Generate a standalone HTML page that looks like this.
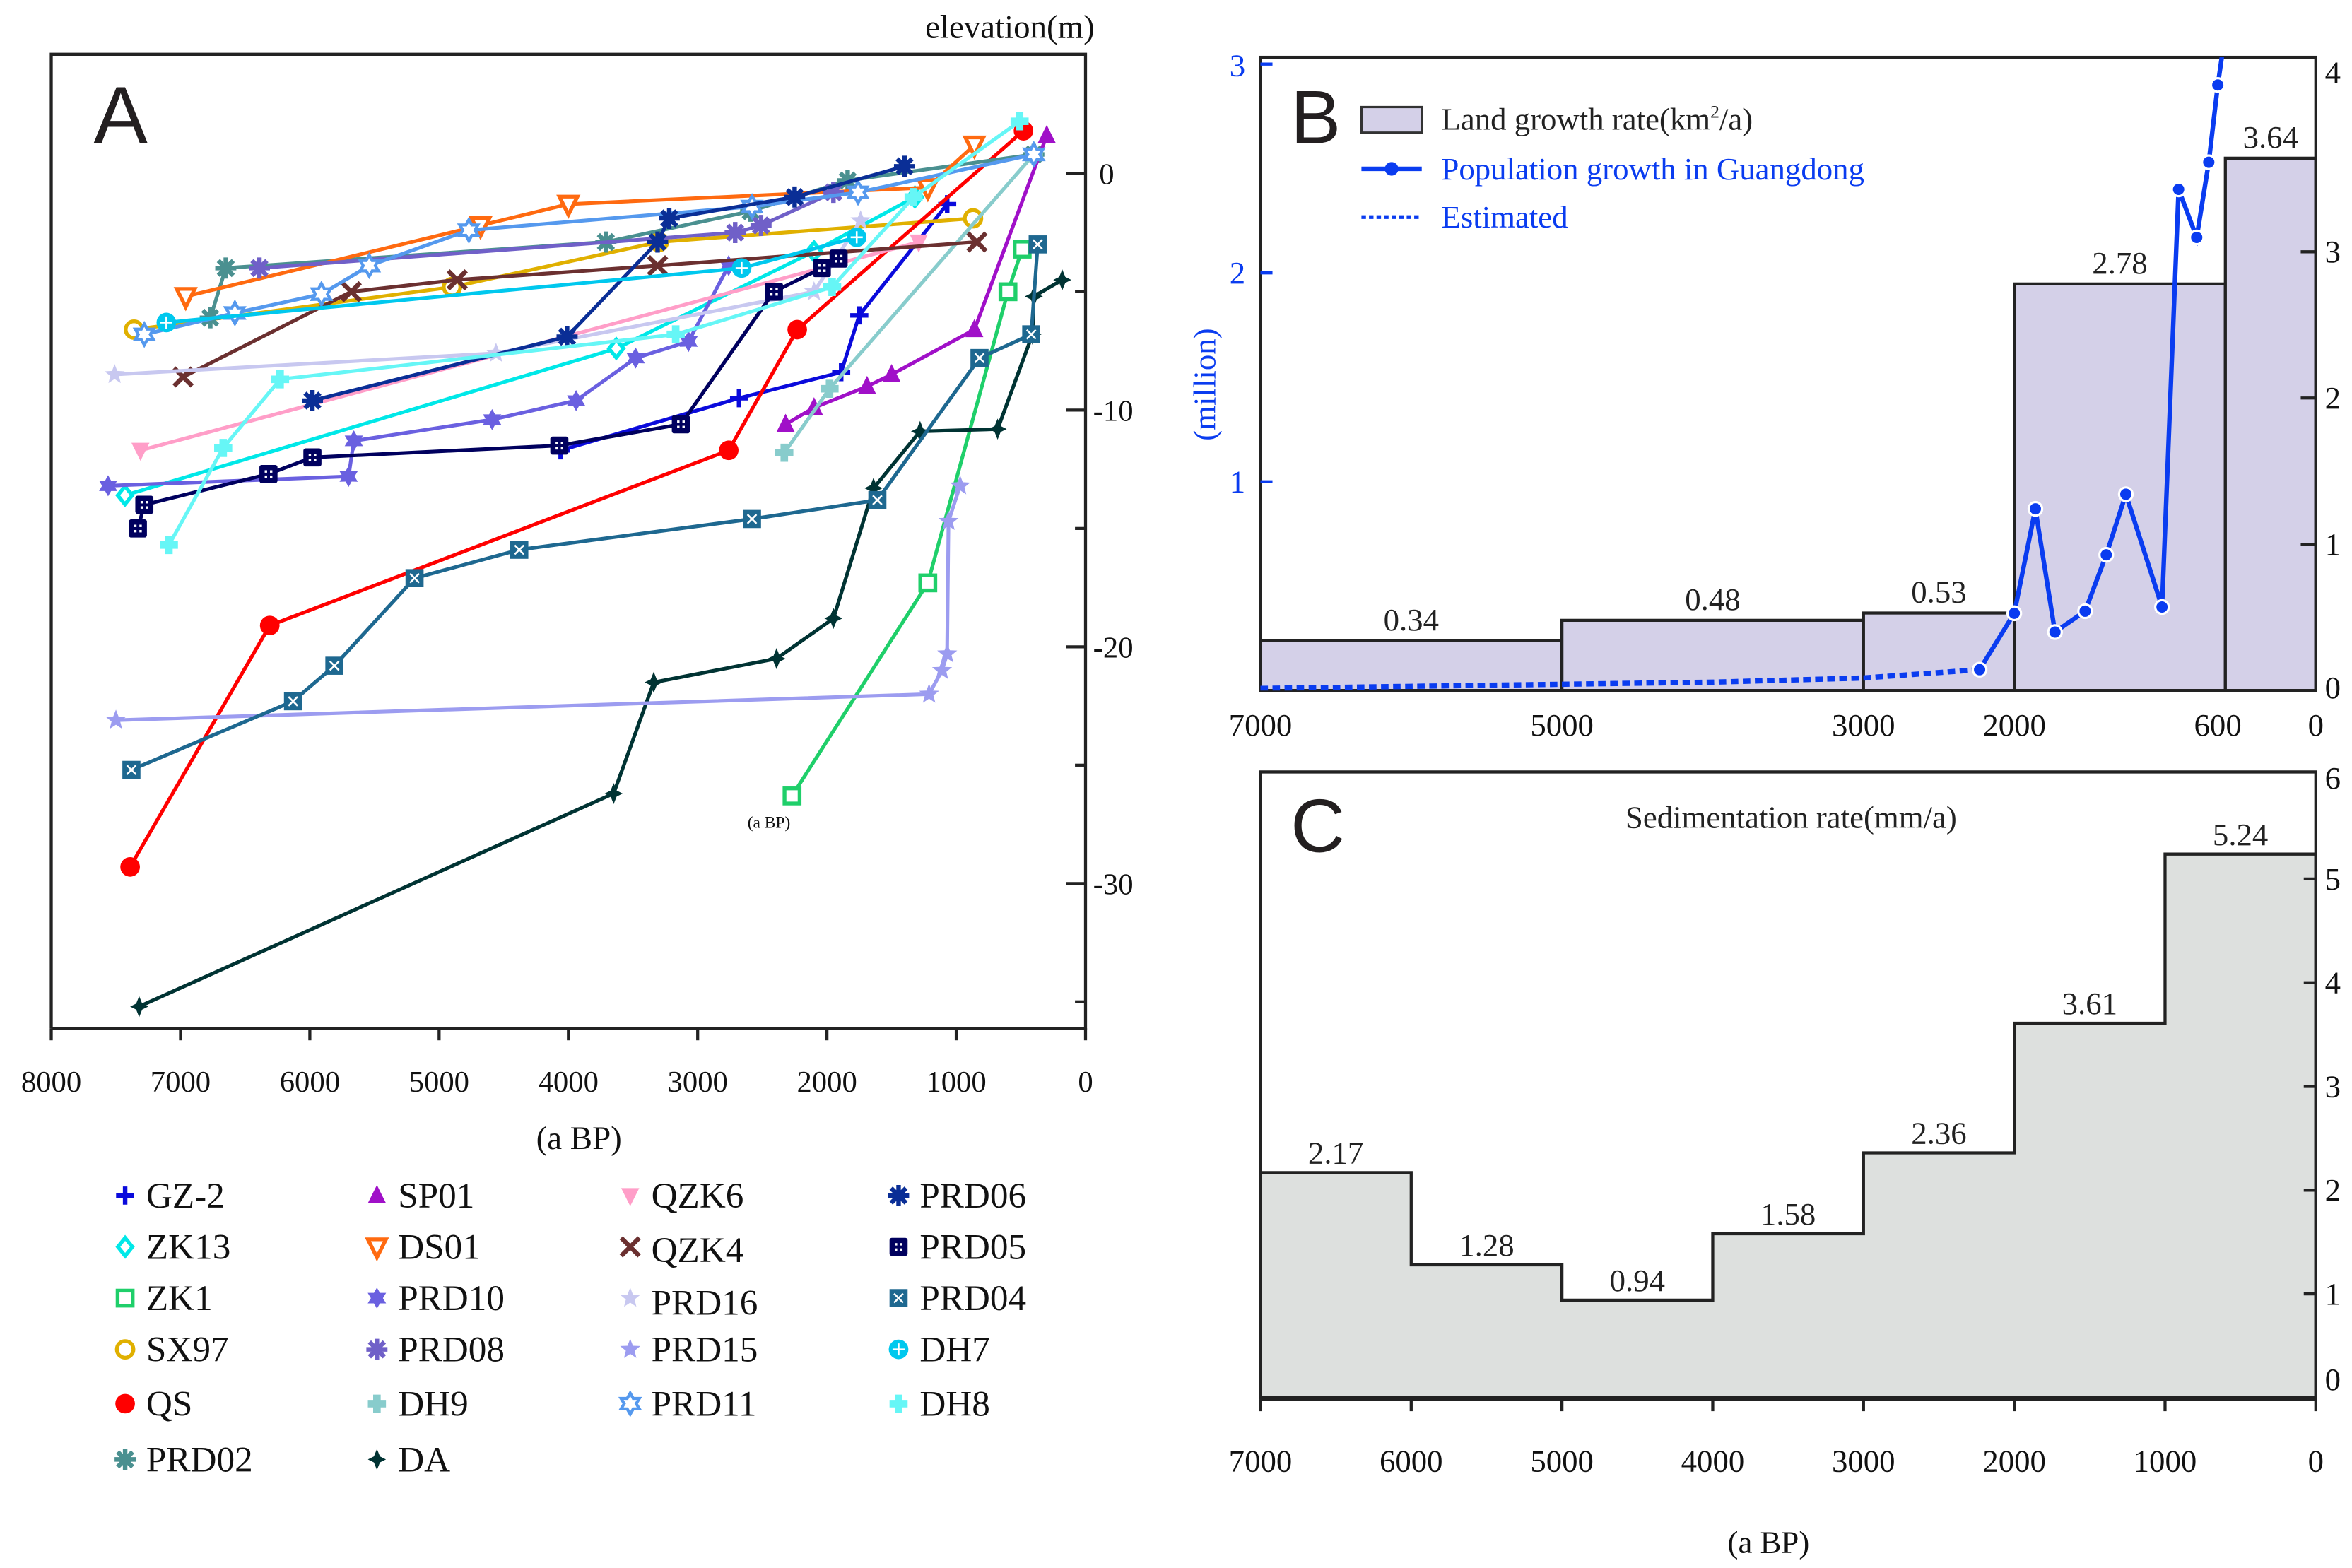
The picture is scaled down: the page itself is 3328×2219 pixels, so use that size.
<!DOCTYPE html>
<html><head><meta charset="utf-8">
<style>
html,body{margin:0;padding:0;background:#fff;}
svg{display:block;font-family:"Liberation Serif",serif;}
</style></head>
<body>
<svg id="fig" width="3328" height="2219" viewBox="0 0 1560 1040" preserveAspectRatio="none" font-family="Liberation Serif, serif" xmlns="http://www.w3.org/2000/svg">
<g id="panelA"></g>
<g id="panelB"></g>
<g id="panelC"></g>
</svg>
<script>
// ---------- Panel A data ----------
const seriesNames = ["GZ-2","ZK13","ZK1","SX97","QS","PRD02","SP01","DS01","PRD10","PRD08","DH9","DA","QZK6","QZK4","PRD16","PRD15","PRD11","PRD06","PRD05","PRD04","DH7","DH8"];
const GZ2 = [[1070,-1.3],[1750,-6.0],[1890,-8.4],[2680,-9.5],[4060,-11.7]];
const ZK13 = [[7430,-13.6],[3630,-7.4],[2100,-3.3],[1320,-1.0]];
const ZK1 = [[2270,-26.3],[1220,-17.3],[600,-5.0],[490,-3.2]];
const SX97 = [[7360,-6.6],[4900,-4.8],[3300,-2.9],[870,-1.9]];
const QS = [[7390,-29.3],[6310,-19.1],[2760,-11.7],[2230,-6.6],[480,1.8]];
const PRD02 = [[6770,-6.1],[6650,-4.0],[3710,-2.9],[2590,-1.6],[1840,-0.3],[400,0.8]];
const SP01 = [[2320,-10.6],[2100,-9.9],[1690,-9.0],[1500,-8.5],[860,-6.6],[300,1.6]];
const DS01 = [[6960,-5.2],[4680,-2.2],[4000,-1.3],[1220,-0.6],[860,1.2]];
const PRD10 = [[7560,-13.2],[5700,-12.8],[5660,-11.3],[4590,-10.4],[3940,-9.6],[3480,-7.8],[3070,-7.1],[2760,-3.9]];
const PRD08 = [[6390,-4.0],[2710,-2.5],[2510,-2.2],[1950,-0.8]];
const DH9 = [[2330,-11.8],[1980,-9.1],[400,0.8]];
const DA = [[7320,-35.2],[3650,-26.2],[3340,-21.5],[2390,-20.5],[1950,-18.8],[1640,-13.3],[1280,-10.9],[680,-10.8],[410,-6.8],[400,-5.2],[180,-4.5]];
const QZK6 = [[7310,-11.7],[1290,-2.9]];
const QZK4 = [[6980,-8.6],[5680,-5.0],[4860,-4.5],[3310,-3.9],[840,-2.9]];
const PRD16 = [[7510,-8.5],[4560,-7.6],[2100,-5.0],[1740,-2.0]];
const PRD15 = [[7500,-23.1],[1210,-22.0],[1110,-21.0],[1070,-20.3],[1060,-14.7],[970,-13.2]];
const PRD11 = [[7280,-6.8],[6580,-5.9],[5910,-5.1],[5540,-3.9],[4770,-2.4],[2580,-1.4],[1760,-0.8],[400,0.8]];
const PRD06 = [[5980,-9.6],[4010,-6.9],[3310,-2.9],[3220,-1.9],[2250,-1.0],[1400,0.3]];
const PRD05 = [[7330,-15.0],[7280,-14.0],[6320,-12.7],[5980,-12.0],[4070,-11.5],[3130,-10.6],[2410,-5.0],[2040,-4.0],[1910,-3.6]];
const PRD04 = [[7380,-25.2],[6130,-22.3],[5810,-20.8],[5190,-17.1],[4380,-15.9],[2580,-14.6],[1610,-13.8],[820,-7.8],[420,-6.8],[370,-3.0]];
const DH7 = [[7110,-6.3],[2660,-4.0],[1770,-2.7]];
const DH8 = [[7090,-15.7],[6670,-11.6],[6230,-8.7],[3170,-6.8],[1960,-4.8],[1330,-1.0],[510,2.2]];
const ageTicksA = [8000,7000,6000,5000,4000,3000,2000,1000,0];
const elevTicksA = [0,-10,-20,-30];

// ---------- Panel B data ----------
const landPeriods = [[7000,5000],[5000,3000],[3000,2000],[2000,600],[600,0]];
const landRates = [0.34,0.48,0.53,2.78,3.64];
const popYears = [2230,2000,1860,1730,1530,1390,1260,1020,910,790,710,650,590];
const popValues = [0.10,0.37,0.87,0.28,0.38,0.65,0.94,0.40,2.40,2.17,2.53,2.90,3.2];
const estYears = [7000,6000,5000,4000,3000,2230];
const estValues = [0.01,0.02,0.03,0.04,0.06,0.10];
const bXTicks = [7000,5000,3000,2000,600,0];
const bLeftTicks = [1,2,3];
const bRightTicks = [0,1,2,3,4];

// ---------- Panel C data ----------
const sedPeriods = [[7000,6000],[6000,5000],[5000,4000],[4000,3000],[3000,2000],[2000,1000],[1000,0]];
const sedRates = [2.17,1.28,0.94,1.58,2.36,3.61,5.24];
const cXTicks = [7000,6000,5000,4000,3000,2000,1000,0];
const cRightTicks = [0,1,2,3,4,5,6];

const NS="http://www.w3.org/2000/svg";
function mk(tag, attrs, parent){const e=document.createElementNS(NS,tag);for(const k in attrs)e.setAttribute(k,attrs[k]);parent.appendChild(e);return e;}
function txt(s, attrs, parent){const e=mk('text',attrs,parent);e.textContent=s;return e;}
const SANS='font-family:"Liberation Sans",sans-serif';

// ===== Panel A =====
const A=document.getElementById('panelA');
const ax=a=>720-a*0.08575;
const ay=v=>115-v*15.7;
{
 let f=mk('path',{d:'M34,682 L34,36 L720,36 L720,682 L34,682',fill:'none',stroke:'#222','stroke-width':2},A);
 
 
 ageTicksA.forEach(t=>{
  let l=mk('line',{x1:ax(t),x2:ax(t),y1:682,y2:690,stroke:'#222','stroke-width':2},A);
  
  
  let tt=txt(String(t),{x:ax(t),y:724,'font-size':20,'text-anchor':'middle',fill:'#111'},A);
  
  
 });
 [0,-5,-10,-15,-20,-25,-30,-35].forEach(t=>{
  let major=(t%10===0);
  let l=mk('line',{x1:720,x2:major?707:713,y1:ay(t),y2:ay(t),stroke:'#222','stroke-width':2},A);
  
  
 });
 elevTicksA.forEach(t=>{
  let tt=txt(String(t),{x:t===0?729:725,y:ay(t)+7,'font-size':20,fill:'#111'},A);
  
  
 });
 let t1=txt('elevation(m)',{x:726,y:25,'font-size':22,'text-anchor':'end',fill:'#111'},A);
 
 
 let t2=txt('(a BP)',{x:384,y:762,'font-size':22,'text-anchor':'middle',fill:'#111'},A);
 
 
 let t3=txt('(a BP)',{x:510,y:549,'font-size':11,'text-anchor':'middle',fill:'#111'},A);
 
 
 let lab=txt('A',{x:62,y:95,'font-size':54,style:SANS,fill:'#231f20'},A);
 
 
}
function marker(g,type,x,y,c){
 const r=6;
 switch(type){
  case 'plus': mk('path',{d:`M${x-r},${y}H${x+r}M${x},${y-r}V${y+r}`,stroke:c,'stroke-width':3},g);break;
  case 'diamond': mk('path',{d:`M${x},${y-r}L${x+r*0.8},${y}L${x},${y+r}L${x-r*0.8},${y}Z`,fill:'#fff',stroke:c,'stroke-width':2.5},g);break;
  case 'square': mk('rect',{x:x-5,y:y-5,width:10,height:10,fill:'#fff',stroke:c,'stroke-width':2.5},g);break;
  case 'circle': mk('circle',{cx:x,cy:y,r:5.5,fill:'#fff',stroke:c,'stroke-width':2.5},g);break;
  case 'dot': mk('circle',{cx:x,cy:y,r:6.5,fill:c},g);break;
  case 'tri': mk('path',{d:`M${x},${y-7}L${x+6},${y+5}L${x-6},${y+5}Z`,fill:c},g);break;
  case 'trid': mk('path',{d:`M${x-6},${y-5}L${x+6},${y-5}L${x},${y+7}Z`,fill:'#fff',stroke:c,'stroke-width':2.5},g);break;
  case 'tridf': mk('path',{d:`M${x-6},${y-5}L${x+6},${y-5}L${x},${y+7}Z`,fill:c},g);break;
  case 'x': mk('path',{d:`M${x-6},${y-6}L${x+6},${y+6}M${x+6},${y-6}L${x-6},${y+6}`,stroke:c,'stroke-width':3},g);break;
  case 'ast': {let d='';for(let i=0;i<4;i++){const a=i*Math.PI/4;d+=`M${x-7*Math.cos(a)},${y-7*Math.sin(a)}L${x+7*Math.cos(a)},${y+7*Math.sin(a)}`;}mk('path',{d,stroke:c,'stroke-width':3},g);mk('circle',{cx:x,cy:y,r:3,fill:c},g);break;}
  case 'star6': {let p=[];for(let i=0;i<12;i++){const a=-Math.PI/2+i*Math.PI/6;const rr=i%2?4:7;p.push((x+rr*Math.cos(a)).toFixed(1)+','+(y+rr*Math.sin(a)).toFixed(1));}mk('polygon',{points:p.join(' '),fill:c},g);break;}
  case 'star6o': {let p=[];for(let i=0;i<12;i++){const a=-Math.PI/2+i*Math.PI/6;const rr=i%2?4:7;p.push((x+rr*Math.cos(a)).toFixed(1)+','+(y+rr*Math.sin(a)).toFixed(1));}mk('polygon',{points:p.join(' '),fill:'#fff',stroke:c,'stroke-width':2},g);break;}
  case 'star5': {let p=[];for(let i=0;i<10;i++){const a=-Math.PI/2+i*Math.PI/5;const rr=i%2?3:7;p.push((x+rr*Math.cos(a)).toFixed(1)+','+(y+rr*Math.sin(a)).toFixed(1));}mk('polygon',{points:p.join(' '),fill:c},g);break;}
  case 'cross': mk('path',{d:`M${x-2.5},${y-6}h5v3.5h3.5v5h-3.5v3.5h-5v-3.5h-3.5v-5h3.5z`,fill:c},g);break;
  case 'sqf': mk('rect',{x:x-6,y:y-6,width:12,height:12,rx:1.5,fill:c},g);
   [[-2.5,-2.5],[1,-2.5],[-2.5,1],[1,1]].forEach(o=>mk('rect',{x:x+o[0],y:y+o[1],width:1.6,height:1.6,fill:'#fff'},g));break;
  case 'sqx': mk('rect',{x:x-6,y:y-6,width:12,height:12,fill:c},g);mk('path',{d:`M${x-3},${y-3}L${x+3},${y+3}M${x+3},${y-3}L${x-3},${y+3}`,stroke:'#fff','stroke-width':1.2},g);break;
  case 'cplus': mk('circle',{cx:x,cy:y,r:6.5,fill:c},g);mk('path',{d:`M${x-4},${y}H${x+4}M${x},${y-4}V${y+4}`,stroke:'#fff','stroke-width':1.2},g);break;
  case 'star4': mk('path',{d:`M${x},${y-7}L${x+2},${y-2}L${x+6},${y}L${x+2},${y+2}L${x},${y+7}L${x-2},${y+2}L${x-6},${y}L${x-2},${y-2}Z`,fill:c},g);break;
 }
}
const styles = [
 ['GZ-2',GZ2,'#0a0adc','plus'],['ZK13',ZK13,'#00e8e8','diamond'],['ZK1',ZK1,'#1fcf6a','square'],
 ['SX97',SX97,'#e0b000','circle'],['QS',QS,'#ff0000','dot'],['PRD02',PRD02,'#4a9090','ast'],
 ['SP01',SP01,'#a010c8','tri'],['DS01',DS01,'#ff6a10','trid'],['PRD10',PRD10,'#6a60e0','star6'],
 ['PRD08',PRD08,'#7060c8','ast'],['DH9',DH9,'#88cccc','cross'],['DA',DA,'#003333','star4'],
 ['QZK6',QZK6,'#ff9ec8','tridf'],['QZK4',QZK4,'#6b3030','x'],['PRD16',PRD16,'#c8c8f0','star5'],
 ['PRD15',PRD15,'#9c9cf0','star5'],['PRD11',PRD11,'#5599ee','star6o'],['PRD06',PRD06,'#0a2e96','ast'],
 ['PRD05',PRD05,'#00005e','sqf'],['PRD04',PRD04,'#1e6890','sqx'],['DH7',DH7,'#00c8ee','cplus'],['DH8',DH8,'#66f6f6','cross']
];
styles.forEach(s=>{
 const g=mk('g',{},A);
 
 
 const pts=s[1].map(p=>ax(p[0]).toFixed(1)+','+ay(p[1]).toFixed(1)).join(' ');
 const pl=mk('polyline',{points:pts,fill:'none',stroke:s[2],'stroke-width':2.4,'stroke-linejoin':'round'},g);
 
 
 s[1].forEach(p=>marker(g,s[3],ax(p[0]),ay(p[1]),s[2]));
});
// legend
{
 const cols=[75,242,410,588], rows=[793,827,861,895,931,968];
 const order=[['GZ-2','ZK13','ZK1','SX97','QS','PRD02'],['SP01','DS01','PRD10','PRD08','DH9','DA'],['QZK6','QZK4','PRD16','PRD15','PRD11'],['PRD06','PRD05','PRD04','DH7','DH8']];
 const lg=mk('g',{},A);
 
 
 order.forEach((col,ci)=>col.forEach((nm,ri)=>{
  const st=styles.find(s=>s[0]===nm);
  const g=mk('g',{},lg);
  
  
  const y=rows[ri]+(nm==='PRD16'?3:0)+(nm==='QZK4'?2:0);
  marker(g,st[3],cols[ci]+8,rows[ri],st[2]);
  txt(nm,{x:cols[ci]+22,y:y+8,'font-size':24,fill:'#111'},g);
 }));
}

// ===== Panel B =====
const B=document.getElementById('panelB');
const bx=t=>1536-t*0.1;
const byR=v=>458-v*97;
const byL=v=>458-v*138.5;
{
 landPeriods.forEach((p,i)=>{
  const r=mk('rect',{x:bx(p[0]),y:byR(landRates[i]),width:bx(p[1])-bx(p[0]),height:458-byR(landRates[i]),fill:'#d4d0e8',stroke:'#222','stroke-width':2},B);
  
  
  const t=txt(landRates[i].toFixed(2),{x:(bx(p[0])+bx(p[1]))/2,y:byR(landRates[i])-7,'font-size':21,'text-anchor':'middle',fill:'#222'},B);
  
  
 });
 const fr=mk('rect',{x:836,y:38,width:700,height:420,fill:'none',stroke:'#222','stroke-width':2},B);
 
 
 const cp=mk('clipPath',{id:'clipB'},B); mk('rect',{x:836,y:38,width:700,height:420},cp);
 const est=mk('polyline',{points:estYears.map((y,i)=>bx(y)+','+byL(estValues[i])).join(' '),fill:'none',stroke:'#0a3cf0','stroke-width':3.5,'stroke-dasharray':'5,3','clip-path':'url(#clipB)'},B);
 
 
 const pop=mk('polyline',{points:popYears.map((y,i)=>bx(y)+','+byL(popValues[i])).join(' '),fill:'none',stroke:'#0a3cf0','stroke-width':3,'clip-path':'url(#clipB)'},B);
 
 
 popYears.forEach((y,i)=>{ if(byL(popValues[i])<40) return;
  const c=mk('circle',{cx:bx(y),cy:byL(popValues[i]),r:4.5,fill:'#0a3cf0',stroke:'#fff','stroke-width':1.5},B);
  
  
 });
 bXTicks.forEach(t=>{
  const tt=txt(String(t),{x:bx(t)-(t===600?5:0),y:488,'font-size':21,'text-anchor':'middle',fill:'#111'},B);
  
  
 });
 bLeftTicks.forEach(t=>{
  mk('line',{x1:836,x2:844,y1:byL(t),y2:byL(t),stroke:'#0a3cf0','stroke-width':2},B);
  const tt=txt(String(t),{x:826,y:byL(t)+(t===3?8:7),'font-size':21,'text-anchor':'end',fill:'#0a3cf0'},B);
  
  
 });
 bRightTicks.forEach(t=>{
  if(t>0&&t<4) mk('line',{x1:1526,x2:1536,y1:byR(t),y2:byR(t),stroke:'#222','stroke-width':2},B);
  const yy=t===4?55:(t===0?463:byR(t)+7);
  const tt=txt(String(t),{x:1542,y:yy,'font-size':21,fill:'#111'},B);
  
  
 });
 const yt=txt('(million)',{x:0,y:0,'font-size':21,'text-anchor':'middle',fill:'#0a3cf0',transform:'translate(806,255) rotate(-90)'},B);
 
 
 const lab=txt('B',{x:856,y:95,'font-size':50,style:SANS,fill:'#231f20'},B);
 
 
 const lg=mk('g',{},B);
 
 
 const l1=mk('g',{},lg);  
 mk('rect',{x:903,y:71,width:40,height:17,fill:'#d4d0e8',stroke:'#333','stroke-width':1.5},l1);
 const lt=txt('Land growth rate(km',{x:956,y:86,'font-size':21,fill:'#222'},l1);
 const sup=mk('tspan',{dy:-8,'font-size':12},lt); sup.textContent='2';
 const rest=mk('tspan',{dy:8},lt); rest.textContent='/a)';
 const l2=mk('g',{},lg);  
 mk('line',{x1:903,x2:943,y1:112,y2:112,stroke:'#0a3cf0','stroke-width':3},l2);
 mk('circle',{cx:923,cy:112,r:4.5,fill:'#0a3cf0'},l2);
 txt('Population growth in Guangdong',{x:956,y:119,'font-size':21,fill:'#0a3cf0'},l2);
 const l3=mk('g',{},lg);  
 mk('line',{x1:903,x2:943,y1:144,y2:144,stroke:'#0a3cf0','stroke-width':2.5,'stroke-dasharray':'3,2'},l3);
 txt('Estimated',{x:956,y:151,'font-size':21,fill:'#0a3cf0'},l3);
}

// ===== Panel C =====
const C=document.getElementById('panelC');
const cx=t=>1536-t*0.1;
const cy=v=>927-v*68.8;
{
 let d=`M${cx(7000)},927`;
 sedPeriods.forEach((p,i)=>{d+=` L${cx(p[0])},${cy(sedRates[i])} L${cx(p[1])},${cy(sedRates[i])}`;});
 d+=` L${cx(0)},927 Z`;
 const ar=mk('path',{d,fill:'#dde0de',stroke:'#222','stroke-width':2},C);
 
 
 sedPeriods.forEach((p,i)=>{
  const t=txt(sedRates[i].toFixed(2),{x:(cx(p[0])+cx(p[1]))/2,y:cy(sedRates[i])-6,'font-size':21,'text-anchor':'middle',fill:'#222'},C);
  
  
 });
 const fr=mk('path',{d:'M836,928 L836,512 L1536,512 L1536,928 L836,928',fill:'none',stroke:'#222','stroke-width':2},C);
 
 
 cXTicks.forEach(t=>{
  mk('line',{x1:cx(t),x2:cx(t),y1:928,y2:936,stroke:'#222','stroke-width':2},C);
  const tt=txt(String(t),{x:cx(t),y:976,'font-size':21,'text-anchor':'middle',fill:'#111'},C);
  
  
 });
 cRightTicks.forEach(t=>{
  if(t>0&&t<6) mk('line',{x1:1528,x2:1536,y1:cy(t),y2:cy(t),stroke:'#222','stroke-width':2},C);
  const yy=t===6?523:(t===0?922:cy(t)+7);
  const tt=txt(String(t),{x:1542,y:yy,'font-size':21,fill:'#111'},C);
  
  
 });
 const ti=txt('Sedimentation rate(mm/a)',{x:1188,y:549,'font-size':21,'text-anchor':'middle',fill:'#222'},C);
 
 
 const xt=txt('(a BP)',{x:1173,y:1030,'font-size':21,'text-anchor':'middle',fill:'#111'},C);
 
 
 const lab=txt('C',{x:856,y:565,'font-size':50,style:SANS,fill:'#231f20'},C);
 
 
}
</script>
</body></html>
